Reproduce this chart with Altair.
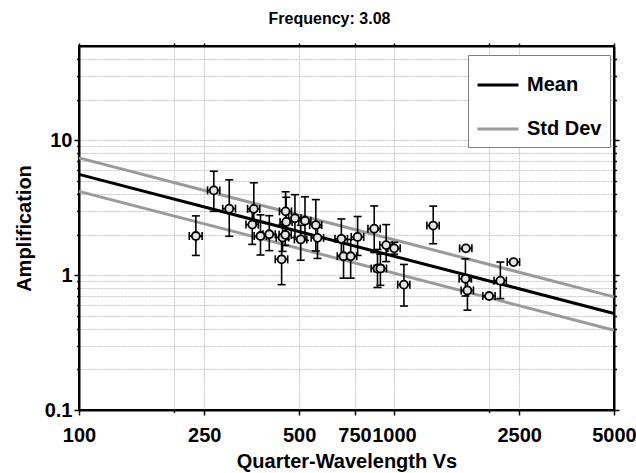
import altair as alt
import pandas as pd

# ---- data ----
vs = [235, 268, 300, 359, 355, 377, 402, 453, 455, 485, 522, 565, 443, 452, 506, 572, 440,
      681, 692, 729, 767, 866, 945, 1002, 887, 906, 1076, 1333, 1693, 1687, 1712, 2006, 2178, 2399]
amp = [1.95, 4.25, 3.11, 3.10, 2.37, 1.95, 2.01, 2.97, 2.48, 2.64, 2.53, 2.35, 1.90, 1.99, 1.84, 1.89, 1.31,
       1.86, 1.38, 1.38, 1.92, 2.21, 1.67, 1.58, 1.12, 1.12, 0.85, 2.33, 1.58, 0.94, 0.77, 0.70, 0.91, 1.25]
amp_lo = [1.40, 2.97, 1.94, 2.46, 1.69, 1.41, 1.52, 2.38, 1.84, 1.90, 1.81, 1.51, 1.50, 1.66, 1.29, 1.33, 0.85,
          1.40, 0.95, 0.95, 1.40, 1.47, 1.26, 1.43, 0.81, 0.84, 0.59, 1.71, 1.58, 0.70, 0.55, 0.70, 0.67, 1.25]
amp_hi = [2.75, 5.89, 5.09, 4.84, 2.97, 2.80, 2.76, 4.15, 3.78, 3.95, 3.81, 3.63, 2.38, 2.34, 2.34, 2.26, 1.94,
          2.61, 1.84, 1.84, 2.72, 3.26, 2.37, 1.75, 1.55, 1.43, 1.20, 3.25, 1.58, 1.32, 0.91, 0.70, 1.25, 1.25]
vs_err = [11, 12, 14, 16, 16, 17, 18, 20, 20, 22, 23, 25, 20, 20, 23, 26, 20,
          31, 31, 33, 35, 39, 43, 45, 40, 41, 48, 60, 76, 76, 77, 90, 98, 108]

line_vs = [100, 5000]
mean_amp = [5.59, 0.52]
std_hi_amp = [7.40, 0.69]
std_lo_amp = [4.18, 0.39]

x_ticks = [100, 200, 250, 500, 750, 1000, 2000, 2500, 5000]
x_minor = [200, 2000]
y_ticks = [0.1, 0.2, 0.3, 0.4, 0.5, 0.6, 0.7, 0.8, 0.9,
           1, 2, 3, 4, 5, 6, 7, 8, 9,
           10, 20, 30, 40]
y_major = [0.1, 1, 10]

FONT = "Liberation Sans"
GRID = "#c6c6c6"

pts = pd.DataFrame({
    "vs": vs, "amp": amp, "amp_lo": amp_lo, "amp_hi": amp_hi,
    "vs_lo": [v - e for v, e in zip(vs, vs_err)],
    "vs_hi": [v + e for v, e in zip(vs, vs_err)],
})

rows = []
for name, series, vals in [("mean", "Mean", mean_amp), ("upper", "Std Dev", std_hi_amp), ("lower", "Std Dev", std_lo_amp)]:
    for v, a in zip(line_vs, vals):
        rows.append({"vs": v, "amp": a, "series": series, "line": name})
lines = pd.DataFrame(rows)

xscale = alt.Scale(type="log", domain=[100, 5000], nice=False)
yscale = alt.Scale(type="log", domain=[0.1, 50], nice=False)

x_minor_test = " || ".join(f"datum.value == {m}" for m in x_minor)
y_major_test = " || ".join(f"datum.value == {m}" for m in y_major)

x_axis = alt.Axis(
    title="Quarter-Wavelength Vs", values=x_ticks, format="d",
    labelExpr=f"({x_minor_test}) ? '' : datum.label",
    labelOverlap=False, labelFlush=False, labelBound=False,
    labelFontSize=20, labelFontWeight="bold", labelColor="black", labelPadding=10,
    titleFontSize=20, titleFontWeight="bold", titleColor="black", titlePadding=6,
    tickSize={"condition": {"test": x_minor_test, "value": 2.5}, "value": 5},
    tickColor="black", tickWidth=1.5,
    domainColor="black", domainWidth=2,
    grid=True, gridColor=GRID, gridDash=[2, 1], gridWidth=1,
)
y_axis = alt.Axis(
    title="Amplification", values=y_ticks,
    labelExpr=f"({y_major_test}) ? format(datum.value, '~g') : ''",
    labelOverlap=False, labelFlush=False, labelBound=False,
    labelFontSize=20, labelFontWeight="bold", labelColor="black", labelPadding=2,
    titleFontSize=20, titleFontWeight="bold", titleColor="black", titlePadding=10,
    tickSize={"condition": {"test": y_major_test, "value": 5}, "value": 2.5},
    tickColor="black", tickWidth=1.5,
    domainColor="black", domainWidth=2,
    grid=True, gridColor=GRID, gridDash=[2, 1], gridWidth=1,
)

line_layer = alt.Chart(lines).mark_line(strokeWidth=3).encode(
    x=alt.X("vs:Q", scale=xscale, axis=x_axis),
    y=alt.Y("amp:Q", scale=yscale, axis=y_axis),
    color=alt.Color("series:N",
                    scale=alt.Scale(domain=["Mean", "Std Dev"], range=["#000000", "#9a9a9a"]),
                    legend=alt.Legend(title=None, orient="none", legendX=389, legendY=9,
                                      symbolType="stroke", symbolSize=1681, symbolStrokeWidth=3,
                                      labelFontSize=20, labelFontWeight="bold", labelColor="black",
                                      labelOffset=7, rowPadding=12, padding=8,
                                      strokeColor="#808080", fillColor="white", cornerRadius=0)),
    detail="line:N",
)

# top / right axes (ticks only)
frame_layer = alt.Chart(lines).mark_point(opacity=0).encode(
    x=alt.X("vs:Q", scale=xscale,
            axis=alt.Axis(orient="top", title=None, values=x_ticks, labels=False, grid=False,
                          tickSize=3, tickColor="black", tickWidth=1.5, domainColor="black", domainWidth=2)),
    y=alt.Y("amp:Q", scale=yscale,
            axis=alt.Axis(orient="right", title=None, values=y_ticks, labels=False, grid=False,
                          tickSize={"condition": {"test": y_major_test, "value": 5}, "value": 2.5},
                          tickColor="black", tickWidth=1.5, domainColor="black", domainWidth=2)),
)

def X(f):
    return alt.X(f, scale=xscale, axis=None)

def Y(f):
    return alt.Y(f, scale=yscale, axis=None)

base = alt.Chart(pts)
vrule = base.mark_rule(color="black", strokeWidth=1.6).encode(x=X("vs:Q"), y=Y("amp_lo:Q"), y2="amp_hi:Q")
hrule = base.mark_rule(color="black", strokeWidth=1.6).encode(x=X("vs_lo:Q"), x2="vs_hi:Q", y=Y("amp:Q"))

hcap = dict(shape="M-1,0L1,0", size=64, filled=False, color="black", strokeWidth=1.6, opacity=1)
vcap = dict(shape="M0,-1L0,1", size=64, filled=False, color="black", strokeWidth=1.6, opacity=1)

has_yerr = base.transform_filter("datum.amp_hi > datum.amp_lo")
cap_lo = has_yerr.mark_point(**hcap).encode(x=X("vs:Q"), y=Y("amp_lo:Q"))
cap_hi = has_yerr.mark_point(**hcap).encode(x=X("vs:Q"), y=Y("amp_hi:Q"))
cap_l = base.mark_point(**vcap).encode(x=X("vs_lo:Q"), y=Y("amp:Q"))
cap_r = base.mark_point(**vcap).encode(x=X("vs_hi:Q"), y=Y("amp:Q"))

markers = base.mark_point(shape="circle", size=64, filled=True, fill="#e4e4e4", stroke="black",
                          strokeWidth=1.8, opacity=1).encode(x=X("vs:Q"), y=Y("amp:Q"))

chart = alt.layer(
    line_layer, frame_layer, vrule, hrule, cap_lo, cap_hi, cap_l, cap_r, markers
).resolve_axis(x="independent", y="independent").properties(
    width=535, height=364,
    autosize=alt.AutoSizeParams(type="none"),
    padding={"left": 79, "top": 46, "right": 22, "bottom": 63},
    title=alt.TitleParams("Frequency: 3.08", fontSize=16, fontWeight="bold", color="black",
                          anchor="middle", dx=-17, offset=15, font=FONT),
).configure(font=FONT).configure_view(stroke="black", strokeWidth=2)

chart.save("out.html", embed_options={"renderer": "svg", "actions": False})
